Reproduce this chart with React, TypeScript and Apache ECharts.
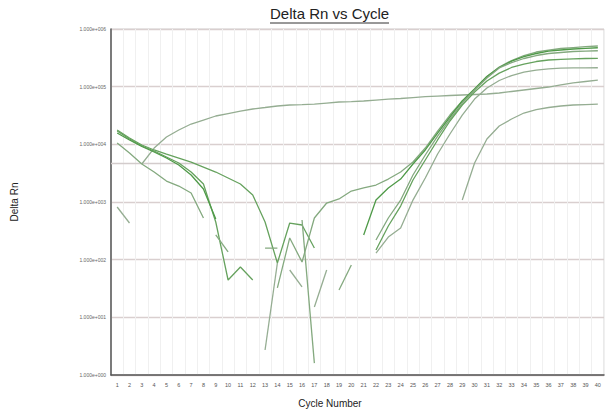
import React, { useEffect, useRef } from "react";
import * as echarts from "echarts";

// Cycle numbers (category axis labels)
const cycles: string[] = Array.from({ length: 40 }, (_, i) => String(i + 1));

// Y tick values (log axis)
const yMin = 1;
const yMax = 1000000;
const threshold = 4700;

// Each trace: first cycle + values
const baselineRiseStart = 3;
const baselineRise = [4560, 8630, 13400, 17700, 22500, 26400, 31000, 34200, 37800, 41000, 43500, 46200, 48100, 49000, 50000, 52000, 54200, 55200, 56400, 58600, 61000, 62300, 64800, 67400, 68800, 70300, 71700, 73100, 74600, 77600, 82400, 87500, 92900, 98600, 107000, 116000, 123000, 130000];

const earlyDropStart = 1;
const earlyDrop = [10500, 7070, 4560, 3310, 2310, 1890, 1430, 528];

const dipCurveStart = 1;
const dipCurve = [17700, 12900, 9730, 7980, 6790, 5790, 4930, 4040, 3310, 2610, 2050, 1320, 450, 87.5, 432, 399, 159];

const dropA_Start = 1;
const dropA = [17000, 12400, 9350, 7660, 6030, 4740, 3310, 2050, 450, 44.4, 74.6, 44.4];

const dropB_Start = 1;
const dropB = [15700, 11900, 9170, 7360, 5790, 4380, 2940, 1680, 507];

const riseMainStart = 14;
const riseMain = [32.3, 238, 91, 528, 960, 1130, 1550, 1750, 1970, 2500, 3310, 4930, 8630, 17000, 32200, 56400, 91000, 150000, 219000, 284000, 347000, 399000, 432000, 459000, 477000, 493000, 507000];

const amp1Start = 21;
const amp1 = [268, 1080, 1750, 2500, 4560, 7980, 15700, 29800, 56400, 91000, 150000, 215000, 278000, 333000, 376000, 415000, 432000, 450000, 462000, 473000];

const amp2Start = 22;
const amp2 = [219, 528, 1080, 2940, 6530, 13900, 27500, 52000, 87500, 141000, 211000, 262000, 308000, 347000, 376000, 391000, 407000, 415000, 420000];

const amp3Start = 22;
const amp3 = [147, 384, 851, 2410, 5350, 11900, 25400, 48100, 80800, 125000, 172000, 215000, 247000, 273000, 290000, 298000, 304000, 308000, 310000];

const amp4Start = 22;
const amp4 = [130, 247, 354, 1080, 2610, 6790, 15100, 32200, 61000, 94800, 128000, 156000, 179000, 194000, 204000, 209000, 211000, 212000, 213000];

const lateAmpStart = 29;
const lateAmp = [1080, 4740, 12400, 20800, 27500, 34900, 40100, 43500, 46200, 48100, 49000, 50000];

// Short noisy fragments
const fragments: { start: number; values: number[] }[] = [
  { start: 1, values: [819, 432] },
  { start: 9, values: [268, 136] },
  { start: 13, values: [2.71, 87.5] },
  { start: 13, values: [159, 159] },
  { start: 15, values: [66.2, 33.6] },
  { start: 16, values: [487, 1.61] },
  { start: 17, values: [15.1, 66.2] },
  { start: 19, values: [29.8, 80.8] },
];

function toSeriesData(start: number, values: number[]): (number | null)[] {
  const out: (number | null)[] = cycles.map(() => null);
  values.forEach((v, i) => {
    out[start - 1 + i] = v;
  });
  return out;
}

const DARK = "#4f9a48";
const MID = "#66a25e";
const LIGHT = "#84a97f";
const GREY = "#95ad92";

export default function App() {
  const ref = useRef<HTMLDivElement>(null);

  useEffect(() => {
    if (!ref.current) return;
    const chart = echarts.init(ref.current, undefined, { renderer: "svg" });

    const traces: { start: number; values: number[]; color: string }[] = [
      { start: baselineRiseStart, values: baselineRise, color: GREY },
      { start: earlyDropStart, values: earlyDrop, color: LIGHT },
      { start: dipCurveStart, values: dipCurve, color: MID },
      { start: dropA_Start, values: dropA, color: MID },
      { start: dropB_Start, values: dropB, color: DARK },
      { start: riseMainStart, values: riseMain, color: LIGHT },
      { start: amp1Start, values: amp1, color: DARK },
      { start: amp2Start, values: amp2, color: LIGHT },
      { start: amp3Start, values: amp3, color: MID },
      { start: amp4Start, values: amp4, color: GREY },
      { start: lateAmpStart, values: lateAmp, color: GREY },
      ...fragments.map((f, i) => ({ start: f.start, values: f.values, color: i % 2 ? LIGHT : GREY })),
    ];

    const series: any[] = traces.map((t, i) => ({
      type: "line",
      data: toSeriesData(t.start, t.values),
      showSymbol: false,
      symbol: "none",
      connectNulls: false,
      silent: true,
      lineStyle: { color: t.color, width: 1.3 },
      z: 3,
      ...(i === 0
        ? {
            markLine: {
              silent: true,
              symbol: "none",
              label: { show: false },
              lineStyle: { color: "#d3cccc", width: 1.4, type: "solid" },
              data: [{ yAxis: threshold }],
              z: 1,
            },
          }
        : {}),
    }));

    chart.setOption({
      animation: false,
      backgroundColor: "#ffffff",
      textStyle: { fontFamily: "Liberation Sans, Arial, sans-serif" },
      grid: {
        left: 111,
        right: 5,
        top: 29,
        bottom: 38,
        show: true,
        borderColor: "#d4d4d4",
        borderWidth: 1,
      },
      xAxis: {
        type: "category",
        data: cycles,
        boundaryGap: true,
        axisLine: { show: true, lineStyle: { color: "#555555", width: 1.5 } },
        axisTick: { show: false },
        axisLabel: { fontSize: 5.5, color: "#555555", margin: 7, interval: 0 },
        splitLine: { show: true, interval: 0, lineStyle: { color: "#f0f0f0", width: 1 } },
      },
      yAxis: {
        type: "log",
        logBase: 10,
        min: yMin,
        max: yMax,
        name: "Delta Rn",
        nameLocation: "middle",
        nameGap: 92,
        nameTextStyle: { fontSize: 10, color: "#222222" },
        axisLine: { show: true, lineStyle: { color: "#555555", width: 1.5 } },
        axisTick: { show: false },
        axisLabel: {
          fontSize: 5,
          color: "#666666",
          margin: 5,
          formatter: (v: number) =>
            "1.000e+" + String(Math.round(Math.log10(v))).padStart(3, "0"),
        },
        splitLine: { show: true, lineStyle: { color: "#d9cfcf", width: 1.3 } },
        minorSplitLine: { show: false },
      },
      graphic: [
        {
          type: "text",
          left: 270,
          top: 6,
          style: {
            text: "Delta Rn vs Cycle",
            fontSize: 15,
            fontFamily: "Liberation Sans, Arial, sans-serif",
            fill: "#222222",
          },
        },
        {
          type: "line",
          shape: { x1: 270, y1: 23, x2: 389, y2: 23 },
          style: { stroke: "#333333", lineWidth: 1 },
        },
        {
          type: "text",
          x: 330,
          y: 403,
          style: {
            text: "Cycle Number",
            fontSize: 10,
            fontFamily: "Liberation Sans, Arial, sans-serif",
            fill: "#222222",
            align: "center",
            verticalAlign: "middle",
          },
        },
      ],
      series,
    });

    return () => chart.dispose();
  }, []);

  return (
    <div
      ref={ref}
      style={{ position: "absolute", left: 0, top: 0, width: 609, height: 413, background: "#fff" }}
    />
  );
}
